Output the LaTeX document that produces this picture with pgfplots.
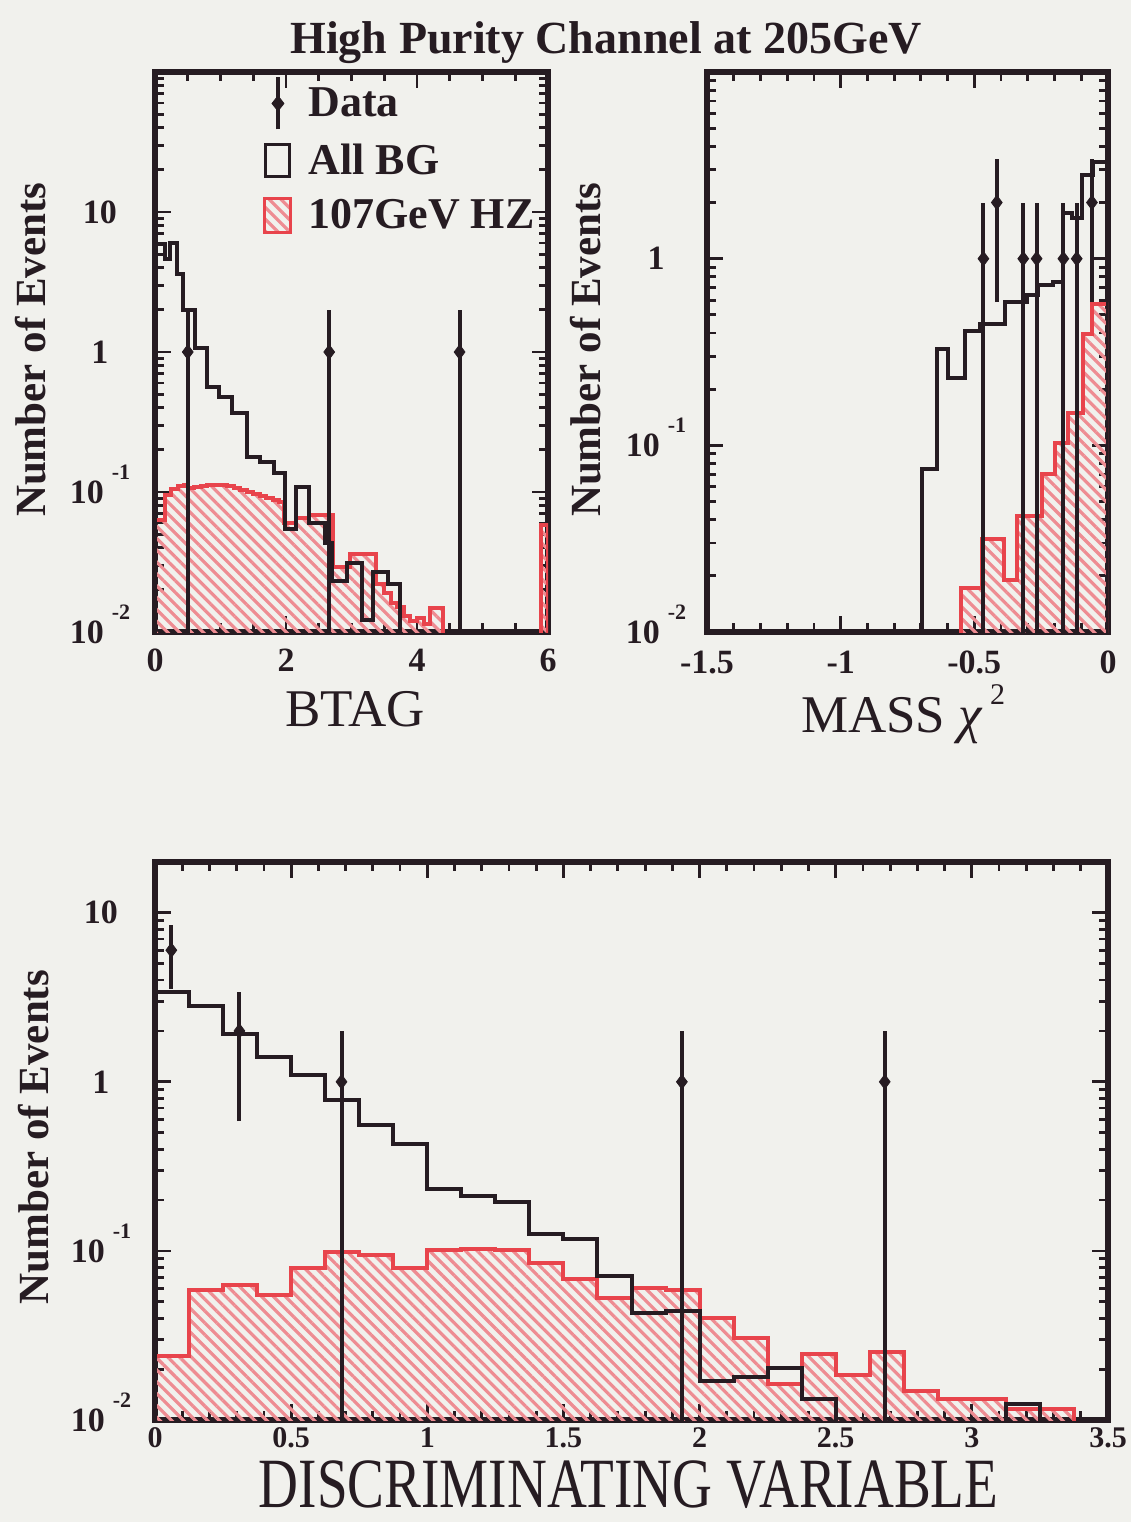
\documentclass[border=0pt]{standalone}
\usepackage{fontspec}
\setmainfont{Liberation Serif}
\usepackage{pgfplots}
\pgfplotsset{compat=1.18}
\usetikzlibrary{patterns.meta}

\definecolor{ink}{RGB}{38,28,34}
\definecolor{hzred}{RGB}{232,68,76}
\definecolor{hatch}{RGB}{238,140,146}
\definecolor{paper}{RGB}{241,241,237}

% decade label: "10" with a raised exponent, PAW style
\newcommand{\dec}[1]{\textbf{10}\hspace{4pt}\smash{\raisebox{12pt}{\fontsize{11}{11}\selectfont\textbf{#1}}}}

\pgfplotsset{
  pawframe/.style={
    scale only axis,
    axis line style={draw=ink, line width=3pt},
    tick align=inside, tick pos=both,
    major tick length=8pt, minor tick length=4.5pt,
    every tick/.append style={draw=ink, line width=1.4pt},
    tick label style={font=\fontsize{17}{17}\selectfont\bfseries, text=ink},
    every axis y label/.style={rotate=90, anchor=center, font=\fontsize{21.5}{21.5}\selectfont\bfseries, text=ink},
    every axis x label/.style={anchor=base, font=\fontsize{26.5}{26.5}\selectfont, text=ink},
    unbounded coords=jump,
  },
  bgline/.style={const plot, line width=2pt, draw=ink, mark=none},
  hzfill/.style={const plot, line width=2pt, draw=hzred, mark=none,
    pattern={Lines[angle=-45,distance=4.2pt,line width=1.6pt]}, pattern color=hatch},
  dataerr/.style={line width=2pt, draw=ink, mark=none},
  datapts/.style={only marks, mark=diamond*, mark size=3.6pt, draw=ink, fill=ink},
}

\begin{document}
\begin{tikzpicture}
\useasboundingbox (0pt,0pt) rectangle (565.5pt,-761pt);
\fill[paper] (0pt,0pt) rectangle (565.5pt,-761pt);

\node[anchor=base, font=\fontsize{23}{23}\selectfont\bfseries, text=ink] at (303pt,-26.5pt) {High Purity Channel at 205GeV};

% ---------------- BTAG ----------------
\begin{axis}[pawframe, ymode=log,
  at={(77.5pt,-316pt)}, anchor=south west, width=196.5pt, height=280pt,
  xmin=0, xmax=6, ymin=0.01, ymax=100,
  xtick={0,2,4,6}, xticklabels={\textbf{0},\textbf{2},\textbf{4},\textbf{6}},
  minor x tick num=3,
  ytick={0.01,0.1,1,10}, yticklabels={\dec{-2},\dec{-1},\textbf{1},\textbf{10}},
  minor ytick={0.02,0.03,0.04,0.05,0.06,0.07,0.08,0.09,0.2,0.3,0.4,0.5,0.6,0.7,0.8,0.9,2,3,4,5,6,7,8,9,20,30,40,50,60,70,80,90},
  yticklabel style={anchor=center, xshift=-27.5pt},
  xticklabel style={anchor=center, yshift=-14pt},
  ylabel={Number of Events}, ylabel style={at={(axis description cs:-0.317,0.504)}},
  xlabel={BTAG}, xlabel style={at={(axis description cs:0.509,-0.1696)}},
  legend style={at={(axis description cs:0.275,0.9946)}, anchor=north west,
    draw=none, fill=none, inner sep=0pt, row sep=1.5pt, column sep=8pt,
    font=\fontsize{22}{22}\selectfont\bfseries, text=ink, nodes={inner sep=0pt}},
  legend cell align=left,
]
\addlegendimage{legend image code/.code={
  \path[draw=none, fill=none] (0pt,-13pt) rectangle (14pt,13pt);
  \draw[ink, line width=2pt] (7pt,-13pt) -- (7pt,13pt);
  \fill[ink] (7pt,-3.8pt) -- (10pt,0pt) -- (7pt,3.8pt) -- (4pt,0pt) -- cycle;}}
\addlegendentry{Data}
\addlegendimage{legend image code/.code={
  \path[draw=none, fill=none] (0pt,-13pt) rectangle (14pt,13pt);
  \draw[ink, line width=1.5pt] (1pt,-8pt) rectangle (13pt,8pt);}}
\addlegendentry{All BG}
\addlegendimage{legend image code/.code={
  \path[draw=none, fill=none] (0pt,-13pt) rectangle (14pt,13pt);
  \draw[hzred, line width=1.5pt, pattern={Lines[angle=-45,distance=4.2pt,line width=1.6pt]}, pattern color=hatch] (0.5pt,-8.5pt) rectangle (13.5pt,8.5pt);}}
\addlegendentry{107GeV HZ}

% 107 GeV HZ signal
\addplot[hzfill] coordinates {
  (0,1e-4) (0,0.063) (0.15,0.095) (0.25,0.105) (0.35,0.110) (0.45,0.113)
  (0.5,0.106) (0.6,0.108) (0.7,0.110) (0.8,0.112) (0.9,0.113) (1.0,0.112)
  (1.1,0.110) (1.2,0.107) (1.3,0.104) (1.4,0.100) (1.5,0.097) (1.6,0.094)
  (1.7,0.091) (1.8,0.088) (1.9,0.085) (1.97,0.060) (2.16,0.065) (2.35,0.069)
  (2.72,0.029) (2.98,0.036) (3.38,0.022) (3.5,0.019) (3.6,0.016) (3.7,0.015)
  (3.8,0.013) (3.9,0.012) (4.0,0.0125) (4.1,0.0115) (4.2,0.0148) (4.4,1e-4)
  (5.9,0.058) (6.0,1e-4)};
% all background
\addplot[bgline] coordinates {
  (0,1e-4) (0,5.9) (0.15,4.6) (0.23,6.0) (0.33,3.6) (0.43,2.0) (0.61,1.06)
  (0.79,0.565) (0.97,0.48) (1.17,0.365) (1.40,0.179) (1.60,0.164) (1.81,0.136)
  (1.98,0.054) (2.16,0.109) (2.35,0.060) (2.60,0.043) (2.70,0.023) (2.93,0.031)
  (3.16,0.0122) (3.33,0.027) (3.56,0.022) (3.74,1e-4)};
% data with Poisson errors
\addplot[dataerr] coordinates {
  (0.50,0.001) (0.50,2) (0.50,nan)
  (2.66,0.001) (2.66,2) (2.66,nan)
  (4.65,0.001) (4.65,2)};
\addplot[datapts] coordinates {(0.50,1) (2.66,1) (4.65,1)};
\end{axis}

% ---------------- MASS chi2 ----------------
\begin{axis}[pawframe, ymode=log,
  at={(353.5pt,-316pt)}, anchor=south west, width=200.5pt, height=280pt,
  xmin=-1.5, xmax=0, ymin=0.01, ymax=10,
  xtick={-1.5,-1,-0.5,0}, xticklabels={\textbf{-1.5},\textbf{-1},\textbf{-0.5},\textbf{0}},
  minor x tick num=4,
  ytick={0.01,0.1,1}, yticklabels={\dec{-2},\dec{-1},\textbf{1}},
  minor ytick={0.02,0.03,0.04,0.05,0.06,0.07,0.08,0.09,0.2,0.3,0.4,0.5,0.6,0.7,0.8,0.9,2,3,4,5,6,7,8,9},
  yticklabel style={anchor=center, xshift=-25.5pt},
  xticklabel style={anchor=center, yshift=-15pt},
  ylabel={Number of Events}, ylabel style={at={(axis description cs:-0.302,0.504)}},
  xlabel={MASS {\itshape χ}\hspace{4pt}\smash{\raisebox{14pt}{\fontsize{15}{15}\selectfont 2}}},
  xlabel style={at={(axis description cs:0.489,-0.179)}},
]
\addplot[hzfill] coordinates {
  (-0.55,1e-4) (-0.55,0.0172) (-0.47,0.0314) (-0.39,0.019) (-0.341,0.042)
  (-0.248,0.0706) (-0.198,0.1025) (-0.148,0.149) (-0.092,0.394) (-0.061,0.573)
  (0,1e-4)};
\addplot[bgline] coordinates {
  (-0.697,1e-4) (-0.697,0.075) (-0.641,0.327) (-0.597,0.230) (-0.535,0.412)
  (-0.479,0.447) (-0.385,0.586) (-0.304,0.64) (-0.261,0.72) (-0.204,0.75)
  (-0.167,1.76) (-0.135,1.65) (-0.098,2.8) (-0.055,3.3) (0,1e-4)};
\addplot[dataerr] coordinates {
  (-0.466,0.001) (-0.466,2) (-0.466,nan)
  (-0.416,0.586) (-0.416,3.414) (-0.416,nan)
  (-0.317,0.001) (-0.317,2) (-0.317,nan)
  (-0.267,0.001) (-0.267,2) (-0.267,nan)
  (-0.167,0.001) (-0.167,2) (-0.167,nan)
  (-0.117,0.001) (-0.117,2) (-0.117,nan)
  (-0.060,0.586) (-0.060,3.414)};
\addplot[datapts] coordinates {(-0.466,1) (-0.416,2) (-0.317,1) (-0.267,1) (-0.167,1) (-0.117,1) (-0.060,2)};
\end{axis}

% ---------------- discriminating variable ----------------
\begin{axis}[pawframe, ymode=log,
  at={(77.5pt,-710pt)}, anchor=south west, width=476.5pt, height=279pt,
  xmin=0, xmax=3.5, ymin=0.01, ymax=19.95,
  xtick={0,0.5,1,1.5,2,2.5,3,3.5},
  xticklabels={\textbf{0},\textbf{0.5},\textbf{1},\textbf{1.5},\textbf{2},\textbf{2.5},\textbf{3},\textbf{3.5}},
  minor x tick num=4,
  ytick={0.01,0.1,1,10}, yticklabels={\dec{-2},\dec{-1},\textbf{1},\textbf{10}},
  minor ytick={0.02,0.03,0.04,0.05,0.06,0.07,0.08,0.09,0.2,0.3,0.4,0.5,0.6,0.7,0.8,0.9,2,3,4,5,6,7,8,9},
  yticklabel style={anchor=center, xshift=-27pt},
  xticklabel style={anchor=center, yshift=-9pt, font=\fontsize{15}{15}\selectfont\bfseries},
  ylabel={Number of Events}, ylabel style={at={(axis description cs:-0.127,0.507)}},
  xlabel={\scalebox{1}[1.28]{DISCRIMINATING VARIABLE}},
  xlabel style={at={(axis description cs:0.497,-0.157)}, font=\fontsize{27.6}{27.6}\selectfont},
]
\addplot[hzfill] coordinates {
  (0,1e-4) (0,0.0239) (0.125,0.059) (0.25,0.0627) (0.375,0.0549) (0.5,0.079)
  (0.625,0.0986) (0.75,0.094) (0.875,0.079) (1.0,0.101) (1.125,0.103)
  (1.25,0.101) (1.375,0.085) (1.5,0.068) (1.625,0.0525) (1.75,0.060)
  (1.875,0.059) (2.0,0.0402) (2.125,0.0307) (2.25,0.0163) (2.375,0.0247)
  (2.5,0.0184) (2.625,0.0253) (2.75,0.0148) (2.875,0.0134) (3.0,0.0134)
  (3.125,0.0116) (3.25,0.0116) (3.375,1e-4)};
\addplot[bgline] coordinates {
  (0,1e-4) (0,3.39) (0.125,2.79) (0.25,1.93) (0.375,1.41) (0.5,1.10)
  (0.625,0.78) (0.75,0.557) (0.875,0.426) (1.0,0.231) (1.125,0.210)
  (1.25,0.195) (1.375,0.126) (1.5,0.117) (1.625,0.071) (1.75,0.043)
  (1.875,0.044) (2.0,0.0171) (2.125,0.018) (2.25,0.0203) (2.375,0.0134)
  (2.5,1e-4) (3.125,0.0125) (3.25,1e-4)};
\addplot[dataerr] coordinates {
  (0.06,3.55) (0.06,8.45) (0.06,nan)
  (0.31,0.586) (0.31,3.414) (0.31,nan)
  (0.685,0.001) (0.685,2) (0.685,nan)
  (1.935,0.001) (1.935,2) (1.935,nan)
  (2.68,0.001) (2.68,2)};
\addplot[datapts] coordinates {(0.06,6) (0.31,2) (0.685,1) (1.935,1) (2.68,1)};
\end{axis}
\end{tikzpicture}
\end{document}
